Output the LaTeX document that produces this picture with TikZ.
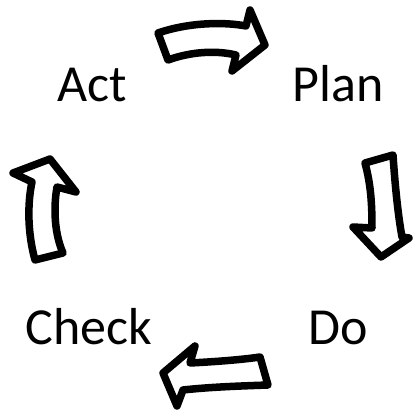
\documentclass[tikz,border=0pt]{standalone}
\usepackage{fontspec}
\setmainfont{Carlito}
\begin{document}
\begin{tikzpicture}[x=1pt, y=-1pt,
        blockarrow/.style={line width=7.5pt, line join=round, draw=black, fill=white},
        word/.style={anchor=base, inner sep=0pt, font=\fontsize{52}{60}\selectfont}]
    \useasboundingbox (0,0) rectangle (413,411);
    % the four steps
    \node[word] (act) at (92.5,102) {Act};
    \node[word] (plan) at (338.5,102) {Plan};
    \node[word] (do) at (338.5,345) {Do};
    \node[word] (check) at (89,345) {Check};
    % Act -> Plan
    \draw[blockarrow] (158,33) .. controls (190,22) and (225,22) .. (246,26) -- (250,10)
        -- (265,45) -- (232,71) -- (236,55) .. controls (215,50) and (190,52) .. (168,60) -- cycle;
    % Plan -> Do
    \draw[blockarrow] (365,163) -- (393,155) .. controls (395,185) and (398,215) .. (402,237)
        -- (409,238) -- (381,257) -- (353,227) -- (372,228) .. controls (372,205) and (371,185) .. (365,163) -- cycle;
    % Do -> Check
    \draw[blockarrow] (260,357) .. controls (240,360) and (210,362) .. (190,363) -- (195,346)
        -- (163,373) -- (177,406) -- (183,390) .. controls (210,387) and (240,386) .. (268,385) -- cycle;
    % Check -> Act
    \draw[blockarrow] (35,260) .. controls (28,235) and (27,205) .. (32,182) -- (13,173)
        -- (50,159) -- (76,192) -- (57,187) .. controls (53,210) and (55,235) .. (63,253) -- cycle;
\end{tikzpicture}
\end{document}
